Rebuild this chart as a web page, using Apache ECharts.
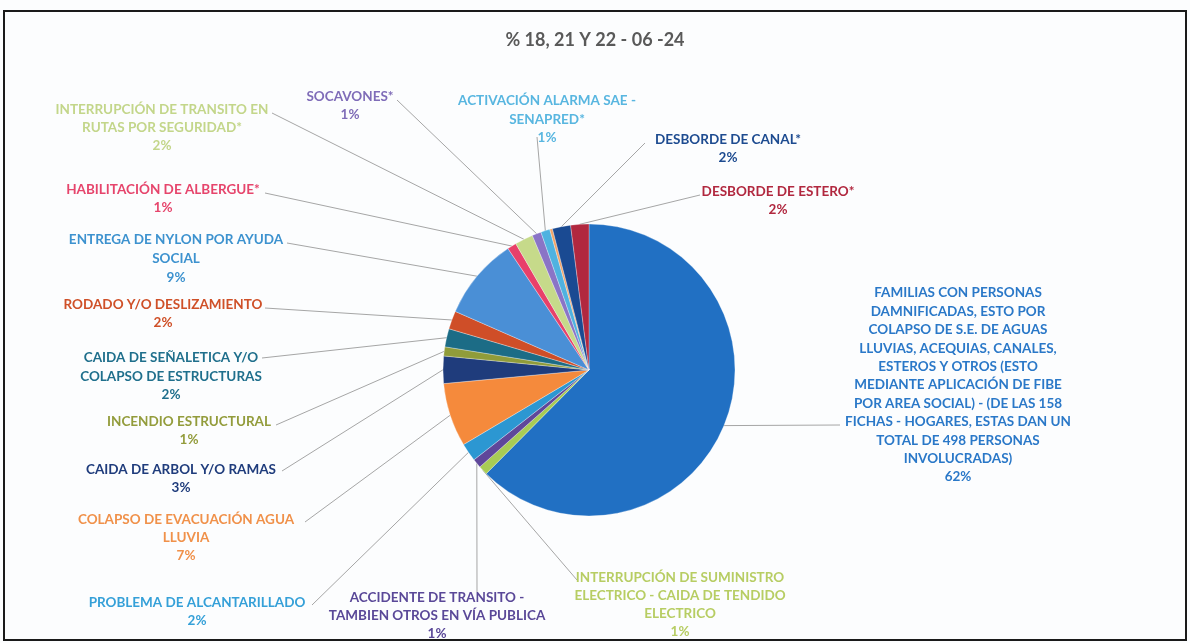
<!DOCTYPE html>
<html>
<head>
<meta charset="utf-8">
<script src="https://cdn.jsdelivr.net/npm/echarts@6/dist/echarts.min.js"></script>
<style>
html,body{margin:0;padding:0;background:#fcfdfe;}
#chart{width:1190px;height:643px;}
</style>
</head>
<body>
<div id="chart"></div>
<script>
// ---- data ----
const title = '% 18, 21 Y 22 - 06 -24';
const categories = [
  'FAMILIAS CON PERSONAS\nDAMNIFICADAS, ESTO POR\nCOLAPSO DE S.E. DE AGUAS\nLLUVIAS, ACEQUIAS, CANALES,\nESTEROS Y OTROS (ESTO\nMEDIANTE APLICACIÓN DE FIBE\nPOR AREA SOCIAL) - (DE LAS 158\nFICHAS - HOGARES, ESTAS DAN UN\nTOTAL DE 498 PERSONAS\nINVOLUCRADAS)',
  'INTERRUPCIÓN DE SUMINISTRO\nELECTRICO - CAIDA DE TENDIDO\nELECTRICO',
  'ACCIDENTE DE TRANSITO -\nTAMBIEN OTROS EN VÍA PUBLICA',
  'PROBLEMA DE ALCANTARILLADO',
  'COLAPSO DE EVACUACIÓN AGUA\nLLUVIA',
  'CAIDA DE ARBOL Y/O RAMAS',
  'INCENDIO ESTRUCTURAL',
  'CAIDA DE SEÑALETICA Y/O\nCOLAPSO DE ESTRUCTURAS',
  'RODADO Y/O DESLIZAMIENTO',
  'ENTREGA DE NYLON POR AYUDA\nSOCIAL',
  'HABILITACIÓN DE ALBERGUE*',
  'INTERRUPCIÓN DE TRANSITO EN\nRUTAS POR SEGURIDAD*',
  'SOCAVONES*',
  'ACTIVACIÓN ALARMA SAE -\nSENAPRED*',
  '',
  'DESBORDE DE CANAL*',
  'DESBORDE DE ESTERO*'
];
const percentValues = [62, 1, 1, 2, 7, 3, 1, 2, 2, 9, 1, 2, 1, 1, 0.3, 2, 2];

// ---- styles / layout (not data) ----
const sliceColors = ['#2170c3','#a8cc55','#5f479a','#2c97d2','#f58a3c','#1f3c7c','#909c3a','#1c6c86','#cf4e28','#4a8fd6','#e8406a','#c6da8a','#8a74c6','#4fb2e0','#f2a468','#1a4a92','#b1283f'];
const labelColors = ['#2a78c8','#b7cd63','#5a4898','#35a0d8','#f0914a','#1f3c7c','#939c3c','#1f6f8c','#cf5028','#3d92cf','#e6456c','#c3d68a','#7f6cb8','#58b6e0',null,'#1d4b90','#b1283f'];
// label block: centre x, first line centre y, line height, leader end point
const labelPos = [
  {cx:958, y0:293, lh:18.4, end:[840,425]},
  {cx:680, y0:578, lh:18, end:[577,580]},
  {cx:437, y0:598, lh:18, end:[477,592]},
  {cx:197, y0:603, lh:18, end:[312,605]},
  {cx:186, y0:520, lh:18, end:[305,522]},
  {cx:181, y0:470, lh:18, end:[282,471]},
  {cx:189, y0:422, lh:18, end:[276,425]},
  {cx:171, y0:358, lh:18.5, end:[262,358]},
  {cx:163, y0:305, lh:18, end:[265,308]},
  {cx:176, y0:240, lh:19, end:[287,243]},
  {cx:163, y0:190, lh:18, end:[265,193]},
  {cx:162, y0:110, lh:18, end:[272,113]},
  {cx:350, y0:97,  lh:18, end:[397,100]},
  {cx:547, y0:101, lh:18.5, end:[537,137]},
  null,
  {cx:728, y0:140, lh:18, end:[645,143]},
  {cx:778, y0:192, lh:18, end:[700,195]}
];

const seriesData = categories.map((n, i) => ({
  name: n,
  value: percentValues[i],
  itemStyle: { color: sliceColors[i] },
  label: labelPos[i] ? { color: labelColors[i], lineHeight: labelPos[i].lh } : { show: false },
  labelLine: labelPos[i] ? {} : { show: false }
}));

const chart = echarts.init(document.getElementById('chart'));
chart.setOption({
  backgroundColor: '#fcfdfe',
  animation: false,
  title: {
    text: title, left: 'center', top: 26,
    textStyle: { fontFamily: 'Lato', fontWeight: 'bold', fontSize: 18, color: '#595959' }
  },
  graphic: [{
    type: 'rect', shape: { x: 4, y: 11, width: 1182, height: 629 },
    style: { fill: 'none', stroke: '#1a1a1a', lineWidth: 2 }, silent: true
  }],
  series: [{
    type: 'pie',
    center: [589, 370],
    radius: 146,
    startAngle: 90,
    clockwise: true,
    avoidLabelOverlap: false,
    minShowLabelAngle: 0,
    itemStyle: { borderColor: '#ffffff', borderWidth: 0.3 },
    label: {
      show: true,
      position: 'outside',
      overflow: 'none',
      fontFamily: 'Lato', fontWeight: 'bold', fontSize: 13.5,
      align: 'center',
      formatter: p => p.name + '\n' + p.value + '%'
    },
    labelLine: { show: true, lineStyle: { color: '#a6a6a6', width: 1 }, length: 10, length2: 10 },
    labelLayout: function (params) {
      const L = labelPos[params.dataIndex];
      if (!L) return {};
      const p0 = (params.labelLinePoints && params.labelLinePoints[0]) || L.end;
      return {
        x: L.cx, y: L.y0 - L.lh / 2, align: 'center', verticalAlign: 'top',
        labelLinePoints: [p0, L.end, L.end]
      };
    },
    data: seriesData
  }]
});
</script>
</body>
</html>
